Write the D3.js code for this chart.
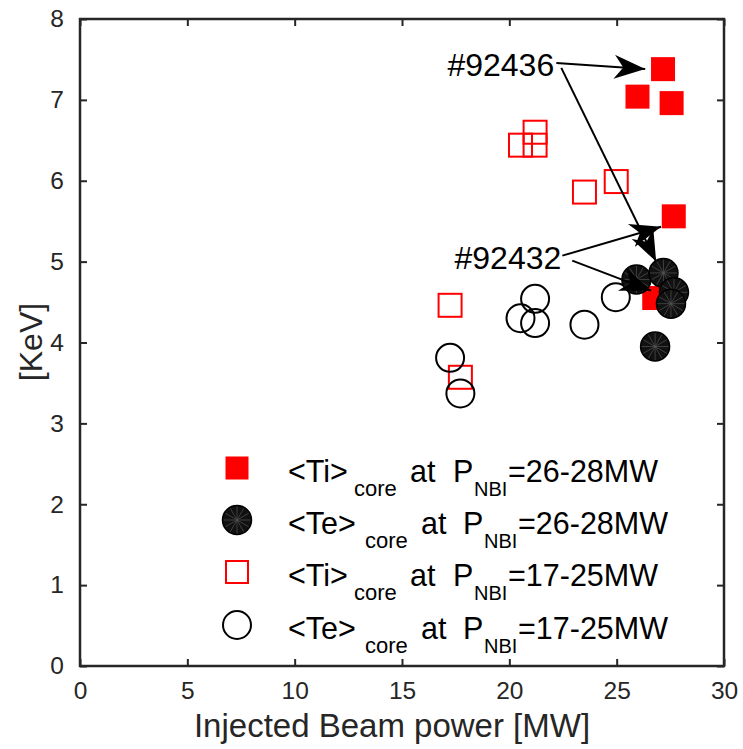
<!DOCTYPE html>
<html>
<head>
<meta charset="utf-8">
<script src="https://cdn.jsdelivr.net/npm/d3@7"></script>
<style>
  body { margin: 0; background: #fff; }
  text { font-family: "Liberation Sans", Arial, sans-serif; }
</style>
</head>
<body>
<div id="chart"></div>
<script>
let w = 743;
let h = 749;

// <Ti>core at PNBI=26-28MW (filled red squares)
let tiHighX = [27.16, 25.97, 27.56, 27.66, 26.75, 27.35];
let tiHighY = [7.38, 7.04, 6.96, 5.56, 4.55, 4.62];
// <Te>core at PNBI=26-28MW (filled dark circles)
let teHighX = [25.92, 27.18, 27.67, 27.53, 26.79];
let teHighY = [4.78, 4.86, 4.62, 4.48, 3.95];
// <Ti>core at PNBI=17-25MW (open red squares)
let tiLowX = [20.52, 21.2, 21.2, 23.5, 24.98, 17.24, 17.72];
let tiLowY = [6.44, 6.6, 6.44, 5.86, 5.99, 4.46, 3.57];
// <Te>core at PNBI=17-25MW (open circles)
let teLowX = [21.2, 20.52, 21.2, 23.5, 24.96, 17.24, 17.72];
let teLowY = [4.54, 4.30, 4.24, 4.22, 4.56, 3.81, 3.37];

let xTicks = [0, 5, 10, 15, 20, 25, 30];
let yTicks = [0, 1, 2, 3, 4, 5, 6, 7, 8];

// annotations, in data units: [x0, y0, x1, y1]
let arrows = [
  [22.19, 7.457, 26.33, 7.383],
  [22.42, 7.395, 26.84, 5.0],
  [22.47, 5.074, 27.07, 5.432],
  [22.93, 5.012, 26.6, 4.642]
];
let labels = [
  {text: "#92436", x: 22.09, y: 7.296},
  {text: "#92432", x: 22.42, y: 4.914}
];

let legendItems = [
  {kind: "sqFill", ion: "<Ti>", range: "=26-28MW"},
  {kind: "circFill", ion: "<Te>", range: "=26-28MW"},
  {kind: "sqOpen", ion: "<Ti>", range: "=17-25MW"},
  {kind: "circOpen", ion: "<Te>", range: "=17-25MW"}
];

let axisColor = "#262626";

let svg = d3.select("#chart").append("svg")
  .attr("width", w)
  .attr("height", h);

let xScale = d3.scaleLinear().domain([0, 30]).range([80, 724]);
let yScale = d3.scaleLinear().domain([0, 8]).range([666, 19]);

let x0 = xScale(0), x1 = xScale(30), y0 = yScale(0), y1 = yScale(8);

// ticks inside the box, on all four sides
let axG = svg.append("g");
axG.append("g")
  .attr("transform", "translate(0," + y0 + ")")
  .call(d3.axisBottom(xScale).tickValues(xTicks).tickSizeInner(-7).tickSizeOuter(0).tickPadding(16))
  .call(g => g.select(".domain").remove());
axG.append("g")
  .attr("transform", "translate(0," + y1 + ")")
  .call(d3.axisTop(xScale).tickValues(xTicks).tickSizeInner(-7).tickSizeOuter(0).tickFormat(""))
  .call(g => g.select(".domain").remove());
axG.append("g")
  .attr("transform", "translate(" + x0 + ",0)")
  .call(d3.axisLeft(yScale).tickValues(yTicks).tickSizeInner(-7).tickSizeOuter(0).tickPadding(16))
  .call(g => g.select(".domain").remove());
axG.append("g")
  .attr("transform", "translate(" + x1 + ",0)")
  .call(d3.axisRight(yScale).tickValues(yTicks).tickSizeInner(-7).tickSizeOuter(0).tickFormat(""))
  .call(g => g.select(".domain").remove());

axG.selectAll(".tick line").attr("stroke", axisColor).attr("stroke-width", 2);
axG.selectAll(".tick text")
  .attr("fill", axisColor)
  .style("font-family", "'Liberation Sans', Arial, sans-serif")
  .attr("font-size", 24.5);

svg.append("rect")
  .attr("x", x0).attr("y", y1)
  .attr("width", x1 - x0).attr("height", y0 - y1)
  .attr("fill", "none")
  .attr("stroke", axisColor)
  .attr("stroke-width", 2.5);

// axis titles
svg.append("text")
  .attr("x", 392)
  .attr("y", 737)
  .attr("text-anchor", "middle")
  .attr("font-size", 33)
  .attr("fill", axisColor)
  .text("Injected Beam power [MW]");

svg.append("text")
  .attr("transform", "translate(42," + 342 + ") rotate(-90)")
  .attr("text-anchor", "middle")
  .attr("font-size", 32)
  .attr("fill", axisColor)
  .text("[KeV]");

// marker drawers
function sqFill(g, cx, cy, s) {
  g.append("rect").attr("x", cx - s / 2).attr("y", cy - s / 2)
    .attr("width", s).attr("height", s).attr("fill", "#ff0000");
}
function sqOpen(g, cx, cy, s) {
  g.append("rect").attr("x", cx - s / 2).attr("y", cy - s / 2)
    .attr("width", s).attr("height", s)
    .attr("fill", "none").attr("stroke", "#ff0000").attr("stroke-width", 2);
}
function circOpen(g, cx, cy, r) {
  g.append("circle").attr("cx", cx).attr("cy", cy).attr("r", r)
    .attr("fill", "none").attr("stroke", "#000").attr("stroke-width", 2);
}
function circFill(g, cx, cy, r) {
  g.append("circle").attr("cx", cx).attr("cy", cy).attr("r", r)
    .attr("fill", "#111").attr("stroke", "#000").attr("stroke-width", 1.5);
  for (let k = 0; k < 12; k++) {
    let a = k * Math.PI / 6;
    g.append("line")
      .attr("x1", cx).attr("y1", cy)
      .attr("x2", cx + Math.cos(a) * (r - 1)).attr("y2", cy + Math.sin(a) * (r - 1))
      .attr("stroke", "#555").attr("stroke-width", 0.7);
  }
}

let plot = svg.append("g");

// open markers first, then filled
tiLowX.forEach((d, i) => sqOpen(plot, xScale(d), yScale(tiLowY[i]), 23));
teLowX.forEach((d, i) => circOpen(plot, xScale(d), yScale(teLowY[i]), 14));
tiHighX.forEach((d, i) => sqFill(plot, xScale(d), yScale(tiHighY[i]), 24));
teHighX.forEach((d, i) => circFill(plot, xScale(d), yScale(teHighY[i]), 14.5));

// arrows
let defs = svg.append("defs");
defs.append("marker")
  .attr("id", "head")
  .attr("viewBox", "0 -12 32 24")
  .attr("refX", 31).attr("refY", 0)
  .attr("markerWidth", 32).attr("markerHeight", 24)
  .attr("markerUnits", "userSpaceOnUse")
  .attr("orient", "auto")
  .append("path")
  .attr("d", "M0,-12 L31,0 L0,12 L9,0 Z")
  .attr("fill", "#000");

plot.selectAll(".arrow").data(arrows).enter()
  .append("line")
  .attr("class", "arrow")
  .attr("x1", d => xScale(d[0])).attr("y1", d => yScale(d[1]))
  .attr("x2", d => xScale(d[2])).attr("y2", d => yScale(d[3]))
  .attr("stroke", "#000").attr("stroke-width", 2)
  .attr("marker-end", "url(#head)");

plot.selectAll(".lab").data(labels).enter()
  .append("text")
  .attr("class", "lab")
  .attr("x", d => xScale(d.x)).attr("y", d => yScale(d.y))
  .attr("text-anchor", "end")
  .attr("font-size", 32)
  .attr("fill", "#000")
  .text(d => d.text);

// legend
let legRowY = [468, 520, 572, 625];
let leg = svg.append("g");
legendItems.forEach((it, i) => {
  let cy = legRowY[i];
  let mx = 237;
  if (it.kind === "sqFill") sqFill(leg, mx, cy, 23);
  if (it.kind === "sqOpen") sqOpen(leg, mx, cy, 22);
  if (it.kind === "circFill") circFill(leg, mx, cy, 14.5);
  if (it.kind === "circOpen") circOpen(leg, mx, cy, 14);

  let isTe = it.ion === "<Te>";
  let base = cy + 14;
  let sub = base + 14;
  let parts = [
    {t: it.ion, x: 288, y: base, fs: 30.5},
    {t: "core", x: isTe ? 365 : 354, y: sub, fs: 22},
    {t: "at", x: isTe ? 421 : 410, y: base, fs: 30.5},
    {t: "P", x: isTe ? 463 : 453, y: base, fs: 30.5},
    {t: "NBI", x: isTe ? 484 : 474, y: sub, fs: 20},
    {t: it.range, x: isTe ? 518 : 508, y: base, fs: 30.5}
  ];
  let txt = leg.append("text").attr("fill", "#000");
  parts.forEach(p => {
    txt.append("tspan")
      .attr("x", p.x).attr("y", p.y)
      .attr("font-size", p.fs)
      .text(p.t);
  });
});
</script>
</body>
</html>
